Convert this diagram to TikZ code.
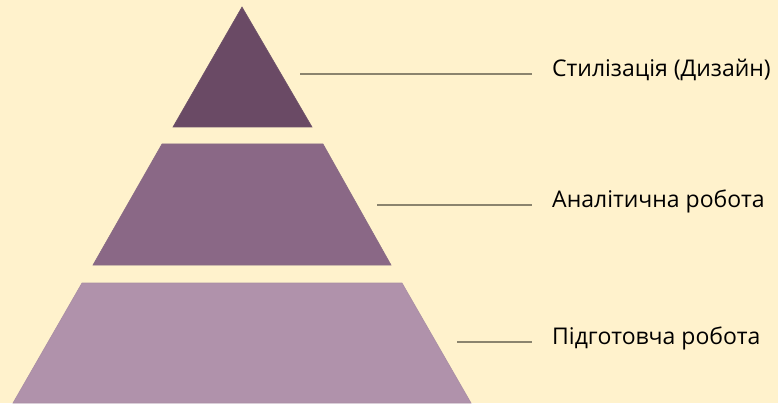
\documentclass[tikz,border=0pt]{standalone}
\usepackage{fontspec}
\setmainfont{Open Sans}
\usepackage{tikz}
\usetikzlibrary{positioning,calc}
\definecolor{Paper}{HTML}{FFF2CC}
\definecolor{LayerTop}{HTML}{6A4A65}
\definecolor{LayerMid}{HTML}{8A6886}
\definecolor{LayerBot}{HTML}{B092AB}
\definecolor{Leader}{HTML}{8B846E}

\begin{document}
\begin{tikzpicture}[
  x=1pt, y=-1pt,
  layer/.style={
    line width=0.6pt,
    line join=miter
  },
  label/.style={
    anchor=mid west,
    inner sep=0pt,
    font=\fontsize{23}{27}\selectfont,
    text=black
  },
  leader/.style={draw=Leader, line width=1.8pt}
]
% background fixes the page size
\fill[Paper] (0,0) rectangle (778,403);

% pyramid layers
\filldraw[layer, fill=LayerTop, draw=LayerTop!85!gray] (242,7) -- (312,127) -- (173,127) -- cycle;
\filldraw[layer, fill=LayerMid, draw=LayerMid!85!gray] (162,144) -- (323,144) -- (391,265) -- (93,265) -- cycle;
\filldraw[layer, fill=LayerBot, draw=LayerBot!85!gray] (82,283) -- (402,283) -- (471,403) -- (13,403) -- cycle;

% leader start points
\coordinate (topEnd) at (300,74);
\coordinate (midEnd) at (377,205);
\coordinate (botEnd) at (457,342);

\node[label] (design) at (552,74) {Стилізація (Дизайн)};
\node[label] (analysis) at (552,205) {Аналітична робота};
\node[label] (prep) at (552,342) {Підготовча робота};

\draw[leader] (topEnd) -- ([xshift=-20pt]design.mid west);
\draw[leader] (midEnd) -- ([xshift=-20pt]analysis.mid west);
\draw[leader] (botEnd) -- ([xshift=-20pt]prep.mid west);
\end{tikzpicture}
\end{document}
